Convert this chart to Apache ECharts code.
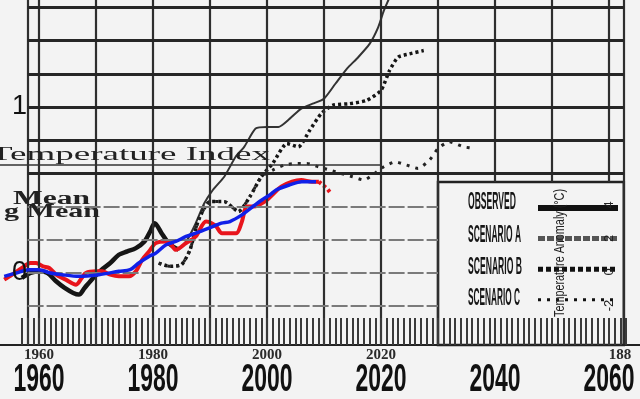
<!DOCTYPE html>
<html><head><meta charset="utf-8">
<script src="https://cdn.jsdelivr.net/npm/echarts@6/dist/echarts.min.js"></script>
<style>html,body{margin:0;padding:0;background:#f3f3f3}#c{width:640px;height:399px}</style>
</head><body><div id="c"></div>
<script>
const SANS = "'Liberation Sans',Arial,sans-serif";
const SERIF = "'Liberation Serif','Times New Roman',serif";

// ---- tick labels ----
const decadeTicks = [1960, 1980, 2000, 2020, 2040, 2060];
const smallTickLabels = ['1960', '1980', '2000', '2020', '', '188'];
const yTickLabels = [0, 1];
const rightTickLabels = [4, 2, 0, -2];
const legendNames = ['OBSERVED', 'SCENARIO A', 'SCENARIO B', 'SCENARIO C'];
const yearTicks = [];
for (let y = 1957; y <= 2063; y++) yearTicks.push(y);

// ---- grid line values ----
const gridYearsFull = [1958, 1960, 1970, 1980, 1990, 2000, 2010, 2020, 2030, 2062.6];
const gridYearsShort = [2040, 2050, 2060];
const gridTempsUpper = [1.6, 1.4, 1.2, 1.0, 0.8, 0.6];
const gridTempsLower = [0.4, 0.2, 0, -0.2];

// ---- series: Hansen observed (black) ----
const obsYears = [1957.0,1958.5,1960.0,1961.5,1963.0,1964.5,1966.0,1967.0,1968.0,1969.5,1971.0,1972.5,1974.0,1975.5,1977.0,1978.5,1979.5,1980.3,1981.5,1982.5,1983.5,1984.5];
const obsTemps = [-0.03,0.00,0.01,0.00,-0.05,-0.09,-0.12,-0.13,-0.09,-0.03,0.02,0.06,0.11,0.13,0.15,0.19,0.25,0.30,0.24,0.19,0.16,0.14];

// ---- Scenario A ----
const scenAYears = [1984.5,1986.0,1987.5,1989.0,1990.5,1992.5,1994.5,1996.0,1998.0,2000.0,2002.0,2004.0,2006.0,2008.0,2010.0,2012.0,2014.0,2016.0,2018.0,2019.5,2020.5,2021.5];
const scenATemps = [0.14,0.20,0.30,0.42,0.50,0.58,0.70,0.76,0.87,0.88,0.88,0.93,0.99,1.02,1.05,1.14,1.23,1.30,1.38,1.48,1.58,1.66];

// ---- Scenario B ----
const scenBYears = [1981.0,1983.0,1985.0,1986.5,1988.0,1990.0,1992.5,1995.0,1997.0,1999.0,2001.0,2003.5,2005.5,2007.5,2009.5,2011.5,2014.5,2017.5,2020.0,2021.5,2023.0,2025.0,2027.5];
const scenBTemps = [0.06,0.04,0.05,0.14,0.32,0.43,0.43,0.37,0.46,0.58,0.66,0.78,0.76,0.86,0.96,1.01,1.02,1.04,1.10,1.22,1.30,1.32,1.34];

// ---- Scenario C ----
const scenCYears = [1981.0,1983.0,1985.0,1986.5,1988.0,1990.0,1992.5,1995.0,1997.0,1999.0,2001.0,2003.0,2005.0,2007.0,2009.0,2011.0,2013.0,2015.0,2017.0,2018.5,2020.5,2022.5,2024.5,2026.5,2028.5,2030.0,2032.0,2034.5,2036.5];
const scenCTemps = [0.06,0.04,0.05,0.14,0.32,0.43,0.43,0.37,0.46,0.58,0.62,0.65,0.66,0.66,0.64,0.62,0.60,0.58,0.56,0.59,0.64,0.67,0.65,0.63,0.68,0.75,0.79,0.76,0.75];

// ---- red (modern observed) ----
const redYears = [1953.9,1955.3,1957.0,1958.5,1959.5,1960.7,1961.8,1963.0,1964.7,1966.5,1967.5,1968.2,1970.0,1971.1,1972.5,1974.0,1975.8,1977.0,1978.1,1979.3,1980.5,1982.3,1983.2,1984.0,1985.8,1987.5,1989.3,1990.3,1991.1,1992.1,1994.6,1995.5,1996.5,1997.5,1998.6,2000.0,2000.9,2002.5,2004.4,2006.0,2007.9,2009.1];
const redTemps = [-0.04,-0.01,0.03,0.06,0.06,0.04,0.03,-0.01,-0.04,-0.07,-0.03,0.00,0.01,0.01,-0.01,-0.02,-0.02,0.01,0.08,0.13,0.18,0.19,0.17,0.14,0.18,0.22,0.31,0.30,0.28,0.24,0.24,0.30,0.40,0.40,0.41,0.44,0.47,0.52,0.55,0.56,0.55,0.55];
const redTailYears = [2009.1, 2009.8, 2010.5, 2011.2];
const redTailTemps = [0.55, 0.53, 0.51, 0.48];

// ---- blue (smoothed) ----
const blueYears = [1953.9,1956.0,1958.2,1960.0,1962.0,1964.0,1967.0,1970.5,1974.0,1976.0,1977.5,1979.3,1980.5,1982.3,1984.0,1985.8,1987.5,1989.8,1992.0,1993.5,1995.6,1997.5,1999.1,2000.5,2001.6,2003.9,2006.1,2008.6];
const blueTemps = [-0.02,0.00,0.02,0.02,0.00,-0.01,-0.02,-0.01,0.01,0.02,0.06,0.10,0.12,0.17,0.19,0.22,0.24,0.27,0.30,0.31,0.35,0.40,0.44,0.47,0.50,0.53,0.55,0.55];

// ---- frame values ----
const X_MIN = 1953.158, X_MAX = 2065.439;
const Y_MIN = -0.4337, Y_MAX = 1.6446;
const insetTop = 0.65, boxTop = 0.548, boxLeft = 2030, frameRight = 2062.6;

function pairs(xs, ys) { return xs.map((x, i) => [x, ys[i]]); }
const mctx = document.createElement('canvas').getContext('2d');
function textW(text, font) { mctx.font = font; return mctx.measureText(text).width; }
function fitText(text, font, targetW) { return targetW / textW(text, font); }

const chart = echarts.init(document.getElementById('c'), null, {renderer: 'canvas'});

const DARK = {color: '#262626', width: 3, type: 'solid'};
const upperLines = gridTempsUpper.map(t => [{coord: [1958, t], lineStyle: DARK}, {coord: [frameRight, t]}]);
const lowerLines = gridTempsLower.map(t => [
  {coord: [1958, t], lineStyle: {color: '#7a7a7a', width: 2.2, type: [16, 3]}}, {coord: [boxLeft, t]}
]);
const insetLine = [[{coord: [X_MIN, insetTop], lineStyle: {color: '#333', width: 1.6, type: 'solid'}}, {coord: [2020, insetTop]}]];
const VSTYLE = {color: '#2e2e2e', width: 2.2, type: 'solid'};
const vLinesFull = gridYearsFull.map(y => ({xAxis: y, lineStyle: VSTYLE}));
const vLinesShort = gridYearsShort.map(y => [{coord: [y, Y_MAX], lineStyle: VSTYLE}, {coord: [y, boxTop]}]);

const smallLabelOf = {};
decadeTicks.forEach((d, i) => smallLabelOf[d] = smallTickLabels[i]);

chart.setOption({
  animation: false,
  backgroundColor: '#f3f3f3',
  grid: {left: 0, right: 0, top: 0, bottom: 54},
  xAxis: {
    type: 'value', min: X_MIN, max: X_MAX, z: 6,
    splitLine: {show: false},
    axisLine: {show: true, onZero: false, lineStyle: {color: '#222', width: 2}},
    axisTick: {show: true, inside: true, length: 27, customValues: yearTicks, lineStyle: {color: '#3a3a3a', width: 2}},
    axisLabel: {
      customValues: decadeTicks, margin: 3,
      formatter: v => (v === 2060 ? '{r|' : '{s|') + (smallLabelOf[v] || ' ') + '}',
      rich: {
        s: {fontFamily: SERIF, fontWeight: 'bold', fontSize: 15, color: '#2a2a2a'},
        r: {fontFamily: SERIF, fontWeight: 'bold', fontSize: 15, color: '#2a2a2a', padding: [0, 0, 0, 22]}
      }
    }
  },
  yAxis: [{
    type: 'value', min: Y_MIN, max: Y_MAX, position: 'left', z: 10,
    axisLine: {show: false}, axisTick: {show: false}, splitLine: {show: false},
    axisLabel: {customValues: yTickLabels, inside: true, margin: 12, fontSize: 27, fontFamily: SANS, color: '#111'}
  }, {
    type: 'value', min: -4.36, max: 16.24, position: 'right',
    axisLine: {show: false}, axisTick: {show: false}, splitLine: {show: false}, axisLabel: {show: false}
  }],
  legend: {
    orient: 'vertical', left: 530, top: 196, align: 'left', z: 20,
    itemWidth: 80, itemHeight: 14, itemGap: 18, selectedMode: false,
    formatter: () => '', textStyle: {fontSize: 8},
    data: [
      {name: legendNames[0], itemStyle: {opacity: 0}, lineStyle: {color: '#111', width: 6, type: 'solid'}},
      {name: legendNames[1], itemStyle: {opacity: 0}, lineStyle: {color: '#555', width: 5, type: [7, 2]}},
      {name: legendNames[2], itemStyle: {opacity: 0}, lineStyle: {color: '#111', width: 5, type: [5, 3]}},
      {name: legendNames[3], itemStyle: {opacity: 0}, lineStyle: {color: '#111', width: 3, type: [3, 6]}}
    ]
  },
  series: [
    {
      type: 'line', name: 'grid', data: [], z: 1, silent: true, clip: false,
      markLine: {silent: true, symbol: ['none', 'none'], label: {show: false}, emphasis: {disabled: true},
        data: [...vLinesFull, ...vLinesShort, ...upperLines, ...lowerLines, ...insetLine]}
    },
    {
      type: 'line', name: 'box', data: [], z: 2, silent: true, clip: false,
      markArea: {silent: true, label: {show: false}, emphasis: {disabled: true},
        itemStyle: {color: 'rgba(243,243,243,0)', borderColor: '#222', borderWidth: 2.5},
        data: [[{coord: [boxLeft, boxTop]}, {coord: [frameRight, Y_MIN]}]]}
    },
    {type: 'line', name: legendNames[0], data: pairs(obsYears, obsTemps), z: 3, clip: false, symbol: 'none', smooth: 0.3,
      itemStyle: {color: '#151515'}, lineStyle: {color: '#151515', width: 4.5}},
    {type: 'line', name: legendNames[1], data: pairs(scenAYears, scenATemps), z: 3, clip: false, symbol: 'none', smooth: 0.2,
      itemStyle: {color: '#333'}, lineStyle: {color: '#333', width: 2}},
    {type: 'line', name: legendNames[2], data: pairs(scenBYears, scenBTemps), z: 3, clip: false, symbol: 'none', smooth: 0.2,
      itemStyle: {color: '#151515'}, lineStyle: {color: '#151515', width: 3.5, type: [3, 3]}},
    {type: 'line', name: legendNames[3], data: pairs(scenCYears, scenCTemps), z: 3, clip: false, symbol: 'none', smooth: 0.2,
      itemStyle: {color: '#222'}, lineStyle: {color: '#222', width: 3, type: [3, 6]}},
    {type: 'line', name: 'red', data: pairs(redYears, redTemps), z: 4, clip: false, symbol: 'none', smooth: 0.3,
      lineStyle: {color: '#e8141c', width: 4}},
    {type: 'line', name: 'redTail', data: pairs(redTailYears, redTailTemps), z: 4, clip: false, symbol: 'none',
      lineStyle: {color: '#e8141c', width: 4, type: [3, 3]}},
    {type: 'line', name: 'blue', data: pairs(blueYears, blueTemps), z: 5, clip: false, symbol: 'none', smooth: 0.3,
      lineStyle: {color: '#1020e8', width: 3.5}}
  ]
});

// ---- real text elements, placed with the chart's own scales ----
const g = [];
const BIGFONT = 'bold 38px ' + SANS;
decadeTicks.forEach(d => {
  const px = chart.convertToPixel({xAxisIndex: 0}, d);
  const t = String(d);
  g.push({type: 'text', x: px, y: 381, scaleX: fitText(t, BIGFONT, 51), z: 100,
    style: {text: t, font: BIGFONT, fill: '#111', align: 'center', verticalAlign: 'middle'}});
});
const LEGFONT = 'bold 24px ' + SANS;
const legendWidths = [48, 53, 54, 52];
const legendTemps = [0.424, 0.229, 0.036, -0.151];
legendNames.forEach((n, i) => {
  const py = chart.convertToPixel({yAxisIndex: 0}, legendTemps[i]);
  g.push({type: 'text', x: 468, y: py, scaleX: fitText(n, LEGFONT, legendWidths[i]), z: 100,
    style: {text: n, font: LEGFONT, fill: '#151515', verticalAlign: 'middle'}});
});
rightTickLabels.forEach(v => {
  const py = chart.convertToPixel({yAxisIndex: 1}, v);
  g.push({type: 'text', x: 609, y: py, rotation: Math.PI / 2, z: 100,
    style: {text: String(v), font: '13px ' + SANS, fill: '#222', align: 'center', verticalAlign: 'middle'}});
});
const TAFONT = '14px ' + SANS;
g.push({type: 'text', x: 560, y: 317, rotation: Math.PI / 2, scaleX: fitText('Temperature Anomaly (°C)', TAFONT, 128), z: 100,
  style: {text: 'Temperature Anomaly (°C)', font: TAFONT, fill: '#222', verticalAlign: 'middle'}});
const TIFONT = '19px ' + SERIF;
g.push({type: 'text', x: -10, y: 155, scaleX: fitText('Temperature Index', TIFONT, 280), z: 100,
  style: {text: 'Temperature Index', font: TIFONT, fill: '#222', verticalAlign: 'middle'}});
const MFONT = 'bold 18px ' + SERIF;
g.push({type: 'text', x: 13, y: 199, scaleX: fitText('Mean', MFONT, 77), z: 100,
  style: {text: 'Mean', font: MFONT, fill: '#222', verticalAlign: 'middle'}});
g.push({type: 'text', x: 4, y: 212, scaleX: fitText('g Mean', MFONT, 96), z: 100,
  style: {text: 'g Mean', font: MFONT, fill: '#222', verticalAlign: 'middle'}});
chart.setOption({graphic: g});
</script></body></html>
